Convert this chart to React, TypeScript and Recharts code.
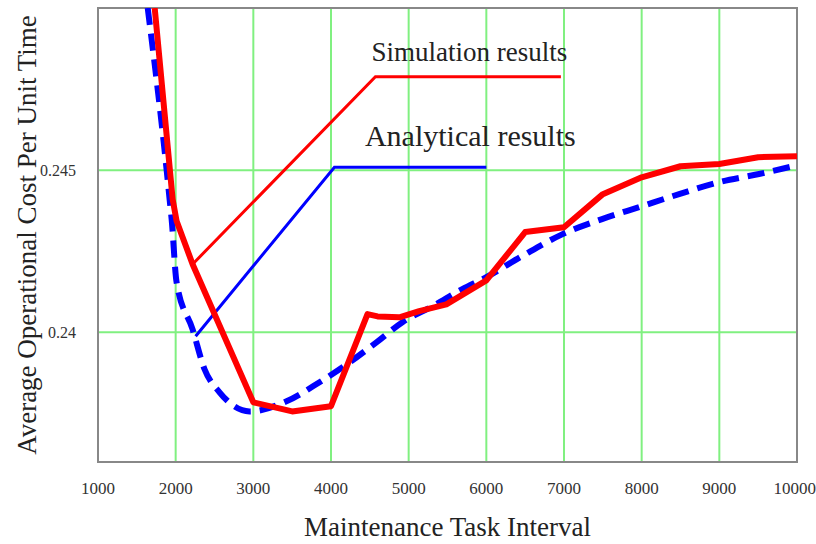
import { LineChart, Line, XAxis, YAxis, CartesianGrid, ReferenceArea, ReferenceDot } from 'recharts';

// simulation results (solid red)
const simX = [1730, 1961, 2012, 2218, 3000, 3500, 4000, 4470, 4600, 4880, 5135, 5485, 6000, 6500, 7000, 7500, 8000, 8500, 9000, 9500, 10000];
const simY = [0.25, 0.2441, 0.24343, 0.2421, 0.23784, 0.23756, 0.23772, 0.24056, 0.24049, 0.24046, 0.24065, 0.24086, 0.2416, 0.24309, 0.24324, 0.24426, 0.24478, 0.24512, 0.24519, 0.2454, 0.24543];

// analytical results (dashed blue)
const anaX = [1640, 1884, 1922, 1948, 2012, 2218, 2372, 2565, 2951, 3427, 3852, 4238, 4585, 4920, 5305, 5691, 6000, 6462, 6976, 7490, 7967, 8482, 8997, 9511, 10000];
const anaY = [0.25, 0.245, 0.2441, 0.24349, 0.24154, 0.24009, 0.23886, 0.23815, 0.23756, 0.23787, 0.23846, 0.23907, 0.23969, 0.24031, 0.2408, 0.24133, 0.2417, 0.24235, 0.24302, 0.24349, 0.24386, 0.24426, 0.24463, 0.24488, 0.24515];

// leader lines for the in-plot legend
const simLeaderX = [2218, 4572, 6960];
const simLeaderY = [0.2421, 0.24788, 0.24788];
const anaLeaderX = [2257, 4044, 6000];
const anaLeaderY = [0.23988, 0.24509, 0.24509];

const xTicks = [1000, 2000, 3000, 4000, 5000, 6000, 7000, 8000, 9000, 10000];
const yTicks = [0.24, 0.245];

const zip = (xs: number[], ys: number[]) => xs.map((x, i) => ({ x, y: ys[i] }));

const serif = '"Liberation Serif", "Times New Roman", serif';

export default function App() {
  const sim = zip(simX, simY);
  const ana = zip(anaX, anaY);
  const simLeader = zip(simLeaderX, simLeaderY);
  const anaLeader = zip(anaLeaderX, anaLeaderY);

  return (
    <div style={{ position: 'absolute', left: 0, top: 0, width: 816, height: 544, background: '#fff' }}>
      <LineChart width={816} height={544} margin={{ top: 8, right: 19, bottom: 0, left: 0 }}>
        <CartesianGrid stroke="#80f080" strokeWidth={2} horizontalValues={yTicks} verticalValues={xTicks} />
        <XAxis
          type="number" dataKey="x" domain={[1000, 10000]} ticks={xTicks} height={82}
          axisLine={false} tickLine={false} tickMargin={14}
          tick={{ fontSize: 17, fontFamily: serif, fill: '#333' }}
          label={{ value: 'Maintenance Task Interval', position: 'insideBottom', offset: 8, fontSize: 27, fontFamily: serif, fill: '#222' }}
        />
        <YAxis
          type="number" domain={[0.236, 0.25]} ticks={yTicks} width={98} allowDataOverflow
          axisLine={false} tickLine={false} tickMargin={16}
          tick={{ fontSize: 16, fontFamily: serif, fill: '#333' }}
          label={{ value: 'Average Operational Cost Per Unit Time', angle: -90, position: 'insideLeft', offset: 26, fontSize: 27, fontFamily: serif, fill: '#222', style: { textAnchor: 'middle' } }}
        />
        <ReferenceArea x1={1000} x2={10000} y1={0.236} y2={0.25} fill="none" stroke="#888" strokeWidth={2} ifOverflow="visible" />
        <Line data={simLeader} dataKey="y" type="linear" stroke="#ff0000" strokeWidth={3} dot={false} isAnimationActive={false} />
        <Line data={anaLeader} dataKey="y" type="linear" stroke="#0000ff" strokeWidth={3} dot={false} isAnimationActive={false} />
        <Line data={ana} dataKey="y" type="monotone" stroke="#0000ff" strokeWidth={6} strokeDasharray="17 9" dot={false} isAnimationActive={false} />
        <Line data={sim} dataKey="y" type="linear" stroke="#ff0000" strokeWidth={6} strokeLinejoin="round" dot={false} isAnimationActive={false} />
        <ReferenceDot x={5781} y={0.24866} r={0} fill="none" stroke="none"
          label={{ value: 'Simulation results', position: 'center', fontSize: 27, fontFamily: serif, fill: '#222' }} />
        <ReferenceDot x={5794} y={0.24607} r={0} fill="none" stroke="none"
          label={{ value: 'Analytical results', position: 'center', fontSize: 30, fontFamily: serif, fill: '#222' }} />
      </LineChart>
    </div>
  );
}
